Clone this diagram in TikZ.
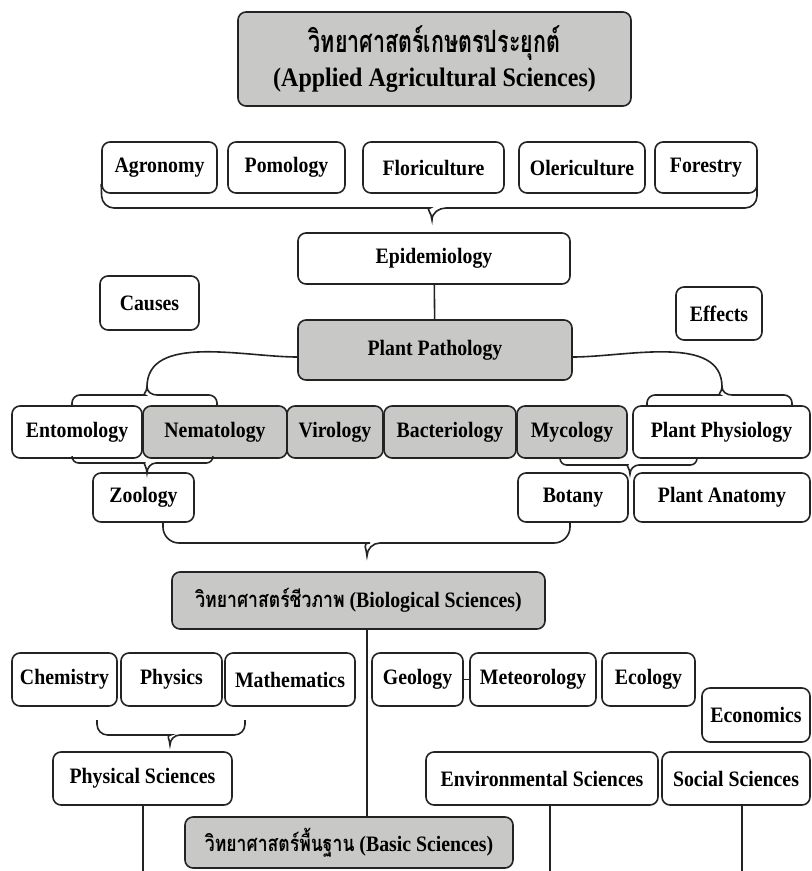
\documentclass[tikz,border=0pt]{standalone}
\usepackage{fontspec}
\setmainfont[FakeStretch=0.9]{Liberation Serif}
\newfontfamily\thaifont[Script=Thai,FakeStretch=0.8]{Loma}
\newfontfamily\thaititle[Script=Thai,FakeStretch=0.7]{Loma}
\definecolor{boxgray}{RGB}{200,200,198}
\definecolor{edge}{RGB}{35,35,35}
\tikzset{
  box/.style={draw=edge,line width=1.2pt,rounded corners=6pt,fill=white,
    font=\bfseries\fontsize{16.5}{19}\selectfont,inner sep=0pt,align=center},
  gbox/.style={box,fill=boxgray},
  sz/.style 2 args={minimum width=#1*0.75pt,minimum height=#2*0.75pt},
  link/.style={draw=edge,line width=1.2pt},
}

\begin{document}
\begin{tikzpicture}[x=0.75pt,y=0.75pt]
  \useasboundingbox (0,0) rectangle (812,-871);
  % top of the figure
  \node[gbox,sz={393}{94},font=\bfseries\fontsize{20}{26}\selectfont] (applied) at (434.5,-59)
    {{\thaititle\fontsize{23}{26}\selectfont วิทยาศาสตร์เกษตรประยุกต์}\\(Applied Agricultural Sciences)};
  \node[box,sz={115}{51}] (agro)  at (159.5,-167.5) {Agronomy};
  \node[box,sz={117}{51}] (pomo)  at (286.5,-167.5) {Pomology};
  \node[box,sz={141}{51}] (flori) at (433.5,-167.5) {Floriculture};
  \node[box,sz={126}{51}] (oleri) at (582,-167.5)   {Olericulture};
  \node[box,sz={102}{51}] (fores) at (706,-167.5)   {Forestry};
  \coordinate (tipA) at (432,-220);
  \draw[link] (agro.south west) ++(0,10) [rounded corners=9pt] -- (102,-208) -- (418,-208)
    [sharp corners] to[out=0,in=90] (tipA) to[out=90,in=180] (446,-208)
    [rounded corners=9pt] -- (757,-208) -- (757,-183);
  % plant pathology part
  \node[box,sz={272}{51}] (epi)    at (434,-258.5) {Epidemiology};
  \node[box,sz={99}{54}]  (causes) at (149.5,-303) {Causes};
  \node[box,sz={86}{53}]  (effect) at (719,-313.5) {Effects};
  \node[gbox,sz={274}{60}] (patho) at (435,-350)   {Plant Pathology};
  \draw[link] (epi) -- (patho);
  \node[box,sz={130}{52}]  (ento)  at (77,-432)    {Entomology};
  \node[gbox,sz={144}{52}] (nema)  at (215,-432)   {Nematology};
  \node[gbox,sz={96}{52}]  (viro)  at (335,-432)   {Virology};
  \node[gbox,sz={132}{52}] (bact)  at (450,-432)   {Bacteriology};
  \node[gbox,sz={110}{52}] (myco)  at (572,-432)   {Mycology};
  \node[box,sz={177}{52}]  (physio) at (721.5,-432) {Plant Physiology};
  \node[box,sz={101}{49}]  (zoo)   at (143.5,-497.5) {Zoology};
  \node[box,sz={110}{49}]  (bot)   at (573,-497.5)   {Botany};
  \node[box,sz={176}{49}]  (anat)  at (722,-497.5)   {Plant Anatomy};
  \coordinate (tipL) at (147,-387);
  \coordinate (tipR) at (722,-387);
  \draw[link] (72,-406) [rounded corners=6pt] -- (72,-395) -- (137,-395)
    [sharp corners] to[out=0,in=-90] (tipL) to[out=-90,in=180] (157,-395)
    [rounded corners=6pt] -- (217,-395) -- (217,-406);
  \draw[link] (patho.west) ++(0,-7) to[out=180,in=90,looseness=.9] (tipL);
  \draw[link] (647,-406) [rounded corners=6pt] -- (647,-395) -- (712,-395)
    [sharp corners] to[out=0,in=-90] (tipR) to[out=-90,in=180] (732,-395)
    [rounded corners=6pt] -- (792,-395) -- (792,-406);
  \draw[link] (patho.east) ++(0,-7) to[out=0,in=90,looseness=.9] (tipR);
  \draw[link] (72,-458) [rounded corners=5pt] -- (72,-463) -- (138,-463)
    [sharp corners] to[out=0,in=90] (147,-473) to[out=90,in=180] (156,-463)
    [rounded corners=5pt] -- (213,-463) -- (213,-458);
  \draw[link] (560,-458) [rounded corners=5pt] -- (560,-465) -- (621,-465)
    [sharp corners] to[out=0,in=90] (630,-474) to[out=90,in=180] (639,-465)
    [rounded corners=5pt] -- (697,-465) -- (697,-458);
  \coordinate (tipB) at (367,-556);
  \draw[link] (zoo.south -| 163,0) [rounded corners=12pt] -- (163,-543) -- (354,-543)
    [sharp corners] to[out=0,in=90] (tipB) to[out=90,in=180] (380,-543)
    [rounded corners=12pt] -- (570,-543) -- (bot.south -| 570,0);
  % basic sciences part
  \node[gbox,sz={373}{57}] (bio) at (358.5,-600.5)
    {{\thaifont วิทยาศาสตร์ชีวภาพ} (Biological Sciences)};
  \node[box,sz={105}{53}] (chem)  at (64.5,-679.5)  {Chemistry};
  \node[box,sz={101}{53}] (phys)  at (171.5,-679.5) {Physics};
  \node[box,sz={130}{53}] (math)  at (290,-679.5)   {Mathematics};
  \node[box,sz={91}{53}]  (geo)   at (417.5,-679.5) {Geology};
  \node[box,sz={126}{53}] (meteo) at (533,-679.5)   {Meteorology};
  \node[box,sz={93}{53}]  (eco)   at (648.5,-679.5) {Ecology};
  \node[box,sz={108}{54}] (econ)  at (756,-715)     {Economics};
  \draw[link] (geo) -- (meteo);
  \draw[link] (97,-720) [rounded corners=8pt] -- (97,-735) -- (160,-735)
    [sharp corners] to[out=0,in=90] (170,-745) to[out=90,in=180] (180,-735)
    [rounded corners=8pt] -- (245,-735) -- (245,-720);
  \node[box,sz={179}{53}] (physsci) at (142.5,-778.5) {Physical Sciences};
  \node[box,sz={232}{53}] (envsci)  at (542,-778.5)   {Environmental Sciences};
  \node[box,sz={148}{53}] (socsci)  at (736,-778.5)   {Social Sciences};
  \node[gbox,sz={328}{51}] (basic) at (349,-842.5)
    {{\thaifont วิทยาศาสตร์พื้นฐาน} (Basic Sciences)};
  \draw[link] (tipB |- bio.south) -- (tipB |- basic.north);
  \coordinate (physEnd) at (143,-871);
  \coordinate (envEnd)  at (550,-871);
  \coordinate (socEnd)  at (742,-871);
  \draw[link] (physsci.south -| physEnd) -- (physEnd);
  \draw[link] (envsci.south -| envEnd) -- (envEnd);
  \draw[link] (socsci.south -| socEnd) -- (socEnd);
\end{tikzpicture}
\end{document}
